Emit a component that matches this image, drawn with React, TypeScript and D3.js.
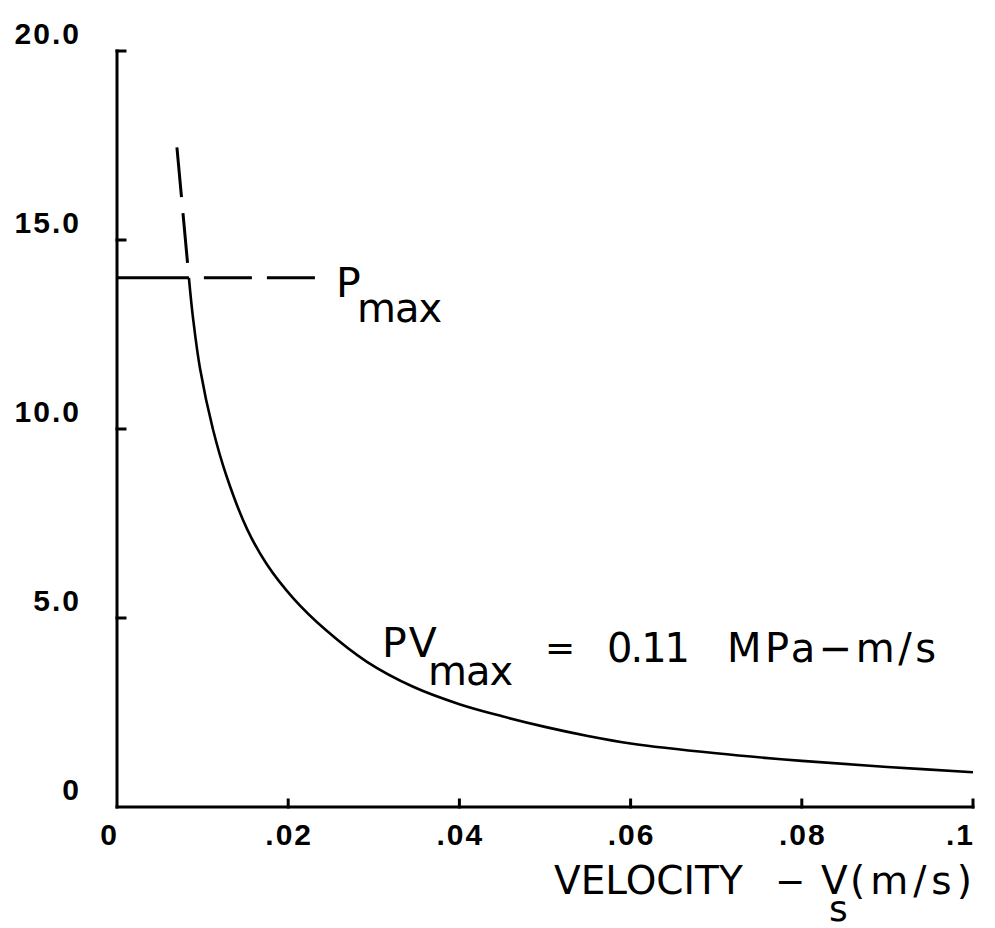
import React from "react";
import * as d3 from "d3";

// Data
const xTicks = [0, 0.02, 0.04, 0.06, 0.08, 0.1];
const xTickLabels = ["0", ".02", ".04", ".06", ".08", ".1"];
const yTicks = [0, 5, 10, 15, 20];
const yTickLabels = ["0", "5.0", "10.0", "15.0", "20.0"];

const pMax = 14.0;
const pMaxLineV = [0, 0.0084];
const pMaxDashV = [0.0084, 0.0234];

const curveV = [0.0084, 0.0089, 0.0097, 0.0112, 0.0128, 0.0152, 0.0175, 0.0206, 0.0244, 0.0292, 0.0346, 0.04, 0.045, 0.05, 0.055, 0.06, 0.07, 0.08, 0.09, 0.1];
const curveP = [14.0, 12.9, 11.6, 10.0, 8.75, 7.35, 6.42, 5.52, 4.68, 3.84, 3.18, 2.72, 2.4, 2.12, 1.88, 1.68, 1.42, 1.22, 1.06, 0.92];

const extV = [0.007, 0.0084];
const extP = [17.45, 14.0];

const W = 995;
const H = 928;

export default function App() {
  const x = d3.scaleLinear().domain([0, 0.1]).range([117, 973]);
  const y = d3.scaleLinear().domain([0, 20]).range([807, 51]);

  const line = d3
    .line<[number, number]>()
    .x((d) => x(d[0]))
    .y((d) => y(d[1]))
    .curve(d3.curveCatmullRom.alpha(0.5));
  const straight = d3
    .line<[number, number]>()
    .x((d) => x(d[0]))
    .y((d) => y(d[1]));

  const curvePts: [number, number][] = curveV.map((v, i) => [v, curveP[i]]);
  const extPts: [number, number][] = extV.map((v, i) => [v, extP[i]]);
  const pmaxSolid: [number, number][] = pMaxLineV.map((v) => [v, pMax]);
  const pmaxDash: [number, number][] = pMaxDashV.map((v) => [v, pMax]);

  const tickFont = { fontFamily: "Liberation Sans, Arial, sans-serif", fontWeight: 700, fontSize: 30 };
  const labFont = { fontFamily: "DejaVu Sans, sans-serif", fontWeight: 400 };

  return (
    <svg
      width={W}
      height={H}
      viewBox={`0 0 ${W} ${H}`}
      style={{ position: "absolute", left: 0, top: 0, background: "#fff" }}
    >
      <rect x={0} y={0} width={W} height={H} fill="#fff" />
      {/* axes */}
      <g stroke="#000" strokeWidth={3} fill="none" strokeLinecap="square">
        <line x1={x(0)} x2={x(0)} y1={y(0)} y2={y(20)} />
        <line x1={x(0)} x2={x(0.1)} y1={y(0)} y2={y(0)} />
        {yTicks
          .filter((t) => t > 0)
          .map((t) => (
            <line key={"yt" + t} x1={x(0)} x2={x(0) + 8} y1={y(t)} y2={y(t)} />
          ))}
        {xTicks
          .filter((t) => t > 0)
          .map((t) => (
            <line key={"xt" + t} x1={x(t)} x2={x(t)} y1={y(0)} y2={y(0) - 7} />
          ))}
      </g>
      {/* y tick labels */}
      {yTicks.map((t, i) => (
        <text
          key={"yl" + t}
          x={81}
          y={y(t) - 18}
          textAnchor="end"
          dominantBaseline="central"
          letterSpacing={2}
          {...tickFont}
        >
          {yTickLabels[i]}
        </text>
      ))}
      {/* x tick labels */}
      {xTicks.map((t, i) => {
        const first = i === 0;
        const last = i === xTicks.length - 1;
        return (
          <text
            key={"xl" + t}
            x={x(t) + (first || last ? 2 : 1)}
            y={834}
            textAnchor={first || last ? "end" : "middle"}
            dominantBaseline="central"
            letterSpacing={2}
            {...tickFont}
          >
            {xTickLabels[i]}
          </text>
        );
      })}

      {/* Pmax line */}
      <path d={straight(pmaxSolid) || ""} stroke="#000" strokeWidth={3} fill="none" />
      <path
        d={straight(pmaxDash) || ""}
        stroke="#000"
        strokeWidth={3}
        fill="none"
        strokeDasharray="48 15"
        strokeDashoffset={48}
      />
      {/* extension of hyperbola above Pmax */}
      <path
        d={straight(extPts) || ""}
        stroke="#000"
        strokeWidth={3}
        fill="none"
        strokeDasharray="50 16"
      />
      {/* PV curve */}
      <path d={line(curvePts) || ""} stroke="#000" strokeWidth={2.6} fill="none" />

      {/* Pmax label */}
      <text x={336} y={297} fontSize={41} {...labFont}>P</text>
      <text x={357} y={322} fontSize={40} letterSpacing={-1} {...labFont}>max</text>

      {/* PV max label */}
      <text x={382} y={657} fontSize={41} letterSpacing={2} {...labFont}>PV</text>
      <text x={428} y={685} fontSize={40} letterSpacing={-1} {...labFont}>max</text>
      <text x={545} y={660} fontSize={36} {...labFont}>=</text>
      <text x={607} y={662} fontSize={40} letterSpacing={-2} {...labFont}>0.11</text>
      <text x={727} y={662} fontSize={40} letterSpacing={3.5} {...labFont}>MPa−m/s</text>

      {/* x axis title */}
      <text x={554} y={894} fontSize={39} {...labFont}>VELOCITY</text>
      <text x={775} y={894} fontSize={36} {...labFont}>−</text>
      <text x={821} y={894} fontSize={39} {...labFont}>V</text>
      <text x={829} y={921} fontSize={36} {...labFont}>s</text>
      <text x={850} y={894} fontSize={39} letterSpacing={5} {...labFont}>(m/s)</text>
    </svg>
  );
}
